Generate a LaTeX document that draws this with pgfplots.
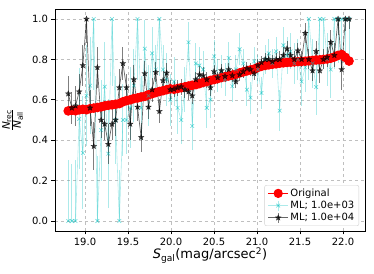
\documentclass[border=0pt]{standalone}
\usepackage{fontspec}
\setmainfont{DejaVu Sans}
\usepackage{amsmath}
\usepackage{pgfplots}
\pgfplotsset{compat=1.18}
\usepackage{pgfplotstable}
\usetikzlibrary{plotmarks}

\definecolor{cyC}{rgb}{0,0.75,0.75}

\pgfdeclareplotmark{fstar}{%
  \pgfpathmoveto{\pgfpointpolar{90}{\pgfplotmarksize}}%
  \pgfpathlineto{\pgfpointpolar{126}{0.42\pgfplotmarksize}}%
  \pgfpathlineto{\pgfpointpolar{162}{\pgfplotmarksize}}%
  \pgfpathlineto{\pgfpointpolar{198}{0.42\pgfplotmarksize}}%
  \pgfpathlineto{\pgfpointpolar{234}{\pgfplotmarksize}}%
  \pgfpathlineto{\pgfpointpolar{270}{0.42\pgfplotmarksize}}%
  \pgfpathlineto{\pgfpointpolar{306}{\pgfplotmarksize}}%
  \pgfpathlineto{\pgfpointpolar{342}{0.42\pgfplotmarksize}}%
  \pgfpathlineto{\pgfpointpolar{18}{\pgfplotmarksize}}%
  \pgfpathlineto{\pgfpointpolar{54}{0.42\pgfplotmarksize}}%
  \pgfpathclose
  \pgfusepathqfillstroke
}

\pgfplotstableread{
x o c cp cm b bp bm
18.805 0.545 0.000 0.30 0.00 0.630 0.09 0.09
18.847 0.548 0.000 0.28 0.00 0.560 0.08 0.08
18.890 0.546 0.000 0.30 0.00 0.570 0.10 0.10
18.932 0.550 0.505 0.25 0.25 0.640 0.09 0.09
18.975 0.553 0.337 0.28 0.28 0.770 0.10 0.10
19.017 0.551 0.620 0.25 0.25 1.000 0.00 0.12
19.059 0.556 0.670 0.24 0.24 0.560 0.09 0.09
19.102 0.559 1.000 0.00 0.35 0.370 0.12 0.12
19.144 0.562 0.000 0.32 0.00 0.760 0.10 0.10
19.187 0.565 0.450 0.25 0.25 0.500 0.09 0.09
19.229 0.570 0.665 0.22 0.22 0.480 0.08 0.08
19.271 0.573 0.333 0.27 0.27 0.380 0.10 0.10
19.314 0.575 1.000 0.00 0.33 0.480 0.08 0.08
19.356 0.578 0.500 0.22 0.22 0.500 0.08 0.08
19.399 0.581 0.000 0.25 0.00 0.660 0.09 0.09
19.441 0.590 0.500 0.18 0.18 0.780 0.08 0.08
19.483 0.596 0.500 0.17 0.17 0.660 0.07 0.07
19.526 0.600 0.560 0.20 0.20 0.480 0.08 0.08
19.568 0.606 0.670 0.18 0.18 0.700 0.07 0.07
19.611 0.609 1.000 0.00 0.30 0.564 0.07 0.07
19.653 0.614 0.560 0.16 0.16 0.414 0.07 0.07
19.695 0.617 0.853 0.14 0.14 0.730 0.06 0.06
19.738 0.625 0.620 0.15 0.15 0.564 0.06 0.06
19.780 0.630 0.830 0.13 0.13 0.650 0.06 0.06
19.823 0.636 0.750 0.12 0.12 0.736 0.05 0.05
19.865 0.641 1.000 0.00 0.28 0.543 0.06 0.06
19.907 0.645 0.750 0.12 0.12 0.695 0.05 0.05
19.950 0.650 0.700 0.13 0.13 0.733 0.05 0.05
19.992 0.654 0.600 0.13 0.13 0.650 0.05 0.05
20.035 0.652 0.690 0.12 0.12 0.653 0.04 0.04
20.077 0.656 0.560 0.13 0.13 0.660 0.04 0.04
20.119 0.660 0.500 0.12 0.12 0.665 0.04 0.04
20.162 0.664 0.650 0.11 0.11 0.650 0.04 0.04
20.204 0.668 0.885 0.10 0.10 0.640 0.04 0.04
20.247 0.672 0.470 0.12 0.12 0.620 0.04 0.04
20.289 0.675 0.780 0.10 0.10 0.700 0.04 0.04
20.331 0.680 0.770 0.09 0.09 0.725 0.04 0.04
20.374 0.686 0.750 0.09 0.09 0.720 0.04 0.04
20.416 0.690 0.560 0.10 0.10 0.700 0.04 0.04
20.459 0.696 0.600 0.09 0.09 0.660 0.04 0.04
20.501 0.700 0.815 0.08 0.08 0.740 0.03 0.03
20.543 0.705 0.720 0.08 0.08 0.710 0.03 0.03
20.586 0.710 0.740 0.08 0.08 0.745 0.03 0.03
20.628 0.714 0.700 0.08 0.08 0.716 0.03 0.03
20.671 0.718 0.807 0.08 0.08 0.750 0.03 0.03
20.713 0.722 0.667 0.08 0.08 0.720 0.03 0.03
20.755 0.727 0.750 0.07 0.07 0.690 0.03 0.03
20.798 0.733 0.850 0.08 0.08 0.725 0.03 0.03
20.840 0.738 0.780 0.07 0.07 0.740 0.03 0.03
20.883 0.743 0.650 0.08 0.08 0.755 0.03 0.03
20.925 0.748 0.610 0.08 0.08 0.750 0.03 0.03
20.967 0.752 0.790 0.07 0.07 0.730 0.03 0.03
21.010 0.760 0.750 0.07 0.07 0.770 0.03 0.03
21.052 0.766 0.634 0.08 0.08 0.785 0.03 0.03
21.095 0.770 0.800 0.07 0.07 0.800 0.03 0.03
21.137 0.773 0.830 0.07 0.07 0.800 0.03 0.03
21.179 0.776 0.780 0.07 0.07 0.790 0.03 0.03
21.222 0.778 0.840 0.07 0.07 0.800 0.03 0.03
21.264 0.781 0.546 0.10 0.10 0.800 0.04 0.04
21.307 0.783 0.870 0.09 0.09 0.820 0.04 0.04
21.349 0.785 0.820 0.09 0.09 0.853 0.04 0.04
21.391 0.786 0.840 0.09 0.09 0.820 0.04 0.04
21.434 0.788 0.780 0.10 0.10 0.800 0.04 0.04
21.476 0.789 0.800 0.10 0.10 0.843 0.04 0.04
21.519 0.790 0.690 0.12 0.12 0.800 0.04 0.04
21.561 0.791 0.760 0.12 0.12 0.930 0.05 0.05
21.603 0.793 1.000 0.00 0.30 0.800 0.05 0.05
21.646 0.795 0.780 0.12 0.12 0.744 0.05 0.05
21.688 0.797 0.663 0.14 0.14 0.840 0.05 0.05
21.731 0.798 1.000 0.00 0.25 0.744 0.06 0.06
21.773 0.800 1.000 0.00 0.25 0.800 0.05 0.05
21.815 0.802 0.800 0.13 0.13 0.810 0.05 0.05
21.858 0.806 0.750 0.14 0.14 0.885 0.06 0.06
21.900 0.812 1.000 0.00 0.25 0.820 0.06 0.06
21.943 0.820 1.000 0.00 0.22 1.000 0.00 0.08
21.985 0.824 1.000 0.00 0.22 0.750 0.10 0.10
22.027 0.810 1.000 0.00 0.20 1.000 0.00 0.06
22.070 0.792 1.000 0.00 0.20 1.000 0.00 0.05
}\data

\begin{document}
\begin{tikzpicture}
\begin{axis}[
  scale only axis, width=310pt, height=222pt,
  xmin=18.651, xmax=22.256, ymin=-0.0495, ymax=1.0495,
  xtick={19,19.5,20,20.5,21,21.5,22},
  ytick={0,0.2,0.4,0.6,0.8,1.0},
  scaled ticks=false,
  every tick label/.append style={font=\fontsize{10}{12}\selectfont,
    /pgf/number format/fixed, /pgf/number format/fixed zerofill,
    /pgf/number format/precision=1, /pgf/number format/assume math mode=true},
  axis line style={black, line width=0.8pt},
  tick style={black, line width=0.8pt},
  tick align=outside, major tick length=3.5pt,
  xtick pos=left, ytick pos=left,
  grid=major, grid style={dashed, gray!50, line width=0.5pt},
  xlabel={\textit{S}\textsubscript{gal}(mag/arcsec\textsuperscript{2})},
  xlabel style={at={(axis description cs:0.5,-0.126)}, anchor=base, font=\fontsize{13}{15}\selectfont},
  ylabel={$\frac{\textit{N}_{\textrm{rec}}}{\textit{N}_{\textrm{all}}}$},
  ylabel style={at={(axis description cs:-0.137,0.5)}, anchor=center, font=\fontsize{15}{17}\selectfont},
  legend style={at={(0.981,0.0225)}, anchor=south east, draw=black!18, fill=white,
    rounded corners=2pt, font=\fontsize{10}{12}\selectfont, inner xsep=3pt, inner ysep=2pt,
    nodes={inner sep=1.6pt}, row sep=0pt},
  legend cell align=left,
]
\addplot[red, line width=1.2pt, mark=*, mark size=4.2pt, mark options={fill=red, draw=red},
  legend image code/.code={
    \draw[red, line width=1.2pt, mark=*, mark size=4pt, mark options={fill=red}, mark repeat=2, mark phase=2]
      plot coordinates {(0pt,0pt) (10pt,0pt) (20pt,0pt)};}]
  table[x=x, y=o]{\data};
\addlegendentry{Original}

\addplot[cyC, draw opacity=0.32, line width=0.6pt, mark=x, mark size=2.6pt,
  mark options={draw opacity=0.6, line width=0.6pt},
  legend image code/.code={
    \draw[cyC, draw opacity=0.32, line width=0.6pt] (0pt,0pt) -- (20pt,0pt);
    \draw[cyC, draw opacity=0.32, line width=1pt] (10pt,-5pt) -- (10pt,5pt);
    \draw[cyC, draw opacity=0.6, line width=0.6pt, mark=x, mark size=2.6pt]
      plot coordinates {(10pt,0pt)};},
  error bars/.cd, y dir=both, y explicit, error mark=none,
  error bar style={cyC, draw opacity=0.32, line width=1pt}]
  table[x=x, y=c, y error plus=cp, y error minus=cm]{\data};
\addlegendentry{ML; 1.0e+03}

\addplot[black, draw opacity=0.6, line width=0.7pt, mark=fstar, mark size=3pt,
  mark options={fill=black, fill opacity=0.7, draw opacity=0.7, line width=0.3pt},
  legend image code/.code={
    \draw[black, draw opacity=0.6, line width=0.7pt] (0pt,0pt) -- (20pt,0pt);
    \draw[black, draw opacity=0.5, line width=1pt] (10pt,-5pt) -- (10pt,5pt);
    \draw[black, fill=black, fill opacity=0.7, draw opacity=0.7, line width=0.3pt, mark=fstar, mark size=3pt]
      plot coordinates {(10pt,0pt)};},
  error bars/.cd, y dir=both, y explicit, error mark=none,
  error bar style={black, draw opacity=0.5, line width=1pt}]
  table[x=x, y=b, y error plus=bp, y error minus=bm]{\data};
\addlegendentry{ML; 1.0e+04}
\end{axis}
\pgfresetboundingbox
\path[use as bounding box] ([xshift=-55pt,yshift=-43pt]current axis.south west) rectangle ([xshift=9pt,yshift=9pt]current axis.north east);
\end{tikzpicture}
\end{document}
